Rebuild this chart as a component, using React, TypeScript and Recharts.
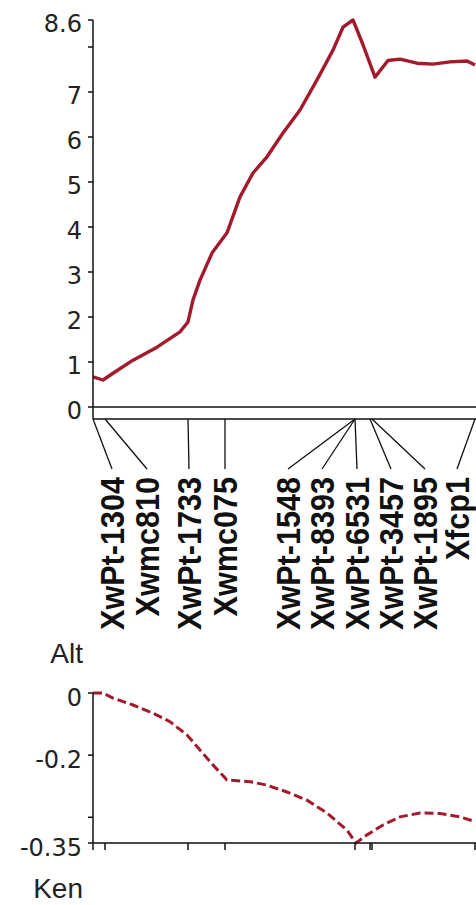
import React from "react";
import { Line, LineChart, XAxis, YAxis } from "recharts";

// Map positions (cM) and marker names along the linkage group
const markerNames = [
  "XwPt-1304",
  "Xwmc810",
  "XwPt-1733",
  "Xwmc075",
  "XwPt-1548",
  "XwPt-8393",
  "XwPt-6531",
  "XwPt-3457",
  "XwPt-1895",
  "Xfcp1",
];
const markerPos = [0, 1.2, 9.5, 13.2, 26.2, 26.2, 26.2, 27.7, 27.9, 38.2];

// LOD profile along the group
const lodPos = [
  0, 1.0, 2.0, 4.0, 6.4, 8.7, 9.5, 10.0, 10.7, 11.9, 13.4, 14.7, 16.0, 17.4,
  19.0, 20.7, 22.4, 24.0, 25.0, 26.0, 27.0, 28.2, 29.5, 30.7, 32.4, 34.0,
  35.7, 37.4, 38.2,
];
const lodValues = [
  0.67, 0.6, 0.75, 1.04, 1.33, 1.67, 1.89, 2.38, 2.82, 3.42, 3.87, 4.67, 5.2,
  5.56, 6.09, 6.6, 7.27, 7.93, 8.44, 8.6, 8.05, 7.33, 7.7, 7.73, 7.64, 7.62,
  7.67, 7.69, 7.6,
];

// Additive effect profile (negative = Ken allele)
const effectPos = [
  0, 1.0, 2.0, 4.0, 6.0, 7.7, 9.4, 10.7, 12.0, 13.4, 15.7, 17.4, 19.4, 21.4,
  23.4, 25.4, 26.3, 27.4, 29.0, 30.7, 32.7, 34.7, 36.7, 38.2,
];
const effectValues = [
  0, 0, -0.012, -0.028, -0.047, -0.067, -0.098, -0.133, -0.168, -0.203,
  -0.207, -0.215, -0.231, -0.25, -0.28, -0.32, -0.35, -0.331, -0.308, -0.289,
  -0.28, -0.281, -0.289, -0.3,
];

const lodTicks = [0, 1, 2, 3, 4, 5, 6, 7, 8, 8.6];
const effectTicks = [0, -0.145, -0.29, -0.35];
const effectTickLabels = ["0", "-0.2", "", "-0.35"];

const lodData = lodPos.map((cM, i) => ({ cM, lod: lodValues[i] }));
const effectData = effectPos.map((cM, i) => ({ cM, effect: effectValues[i] }));
const tickPositions = Array.from(new Set(markerPos));

// horizontal spots where the rotated marker names sit
const labelX = [112, 147, 189, 225, 288, 322, 357, 391, 425, 457];

const RED = "#a31a2d";
const AXIS = "#111";
const tickFont = { fontFamily: "'DejaVu Sans', sans-serif", fontSize: 24, fill: "#222" };

function MarkerTick(props: any) {
  const { x, y, payload } = props;
  const items = markerPos
    .map((p, i) => ({ p, i }))
    .filter((m) => m.p === payload.value);
  return (
    <g>
      {payload.value === 0 && <line x1={x} y1={y - 12} x2={x} y2={y} stroke={AXIS} strokeWidth={1.5} />}
      {items.map(({ i }) => (
        <g key={markerNames[i]}>
          <line x1={x} y1={y} x2={labelX[i]} y2={y + 50} stroke={AXIS} strokeWidth={1.3} />
          <text
            transform={`translate(${labelX[i] + 12},${y + 58}) rotate(-90) scale(0.9,1)`}
            textAnchor="end"
            fontFamily="'Liberation Sans', Arial, sans-serif"
            fontWeight="bold"
            fontSize={34}
            fill="#111"
          >
            {markerNames[i]}
          </text>
        </g>
      ))}
    </g>
  );
}

function LodTick(props: any) {
  const { x, y, payload } = props;
  if (payload.value === 8) return <g />;
  return (
    <text x={x} y={y + 12} textAnchor="end" {...tickFont}>
      {String(payload.value)}
    </text>
  );
}

function EffectTick(props: any) {
  const { x, y, payload, index } = props;
  return (
    <text x={x} y={y + 13} textAnchor="end" {...tickFont}>
      {effectTickLabels[index] ?? String(payload.value)}
    </text>
  );
}

const sideLabel: React.CSSProperties = {
  position: "absolute",
  right: 476 - 83,
  fontFamily: "'Liberation Sans', Arial, sans-serif",
  fontSize: 28,
  lineHeight: "22px",
  color: "#222",
};

export default function App() {
  return (
    <div
      style={{
        position: "fixed",
        left: 0,
        top: 0,
        width: 476,
        height: 905,
        overflow: "hidden",
        background: "#fff",
      }}
    >
      <div style={{ position: "absolute", left: 0, top: 0 }}>
        <LineChart width={593} height={640} margin={{ top: 20, right: 0, bottom: 0, left: 0 }}>
          {/* the double-ruled map bar: upper rule */}
          <XAxis
            xAxisId={0}
            dataKey="cM"
            type="number"
            domain={[0, 50]}
            ticks={[]}
            tick={false}
            tickLine={false}
            axisLine={{ stroke: AXIS, strokeWidth: 1.5 }}
            height={12}
          />
          {/* lower rule, with marker connectors and names */}
          <XAxis
            xAxisId="labels"
            dataKey="cM"
            type="number"
            domain={[0, 50]}
            ticks={tickPositions}
            interval={0}
            tickLine={false}
            tickSize={0}
            tickMargin={0}
            axisLine={{ stroke: AXIS, strokeWidth: 1.5 }}
            height={221}
            tick={(p: any) => <MarkerTick {...p} />}
          />
          <YAxis
            type="number"
            domain={[0, 8.6]}
            ticks={lodTicks}
            interval={0}
            width={93}
            tickSize={5}
            tickMargin={6}
            axisLine={{ stroke: AXIS, strokeWidth: 1.5 }}
            tickLine={{ stroke: AXIS, strokeWidth: 1.5 }}
            tick={(p: any) => <LodTick {...p} />}
          />
          <Line
            xAxisId="labels"
            data={lodData}
            dataKey="lod"
            stroke={RED}
            strokeWidth={3.4}
            strokeLinejoin="round"
            dot={false}
            isAnimationActive={false}
          />
        </LineChart>
      </div>

      <div style={{ ...sideLabel, top: 643 }}>Alt</div>

      <div style={{ position: "absolute", left: 0, top: 660 }}>
        <LineChart width={593} height={203} margin={{ top: 33, right: 0, bottom: 0, left: 0 }}>
          <XAxis
            dataKey="cM"
            type="number"
            domain={[0, 50]}
            ticks={tickPositions}
            interval={0}
            tickSize={7}
            axisLine={{ stroke: AXIS, strokeWidth: 1.5 }}
            tickLine={{ stroke: AXIS, strokeWidth: 1.5 }}
            tick={() => <g />}
            height={20}
          />
          <YAxis
            type="number"
            domain={[-0.35, 0]}
            ticks={effectTicks}
            interval={0}
            width={93}
            tickSize={5}
            tickMargin={6}
            axisLine={{ stroke: AXIS, strokeWidth: 1.5 }}
            tickLine={{ stroke: AXIS, strokeWidth: 1.5 }}
            tick={(p: any) => <EffectTick {...p} />}
          />
          <Line
            data={effectData}
            dataKey="effect"
            stroke={RED}
            strokeWidth={3}
            strokeDasharray="9 4"
            dot={false}
            isAnimationActive={false}
          />
        </LineChart>
      </div>

      <div style={{ ...sideLabel, top: 878 }}>Ken</div>
    </div>
  );
}
